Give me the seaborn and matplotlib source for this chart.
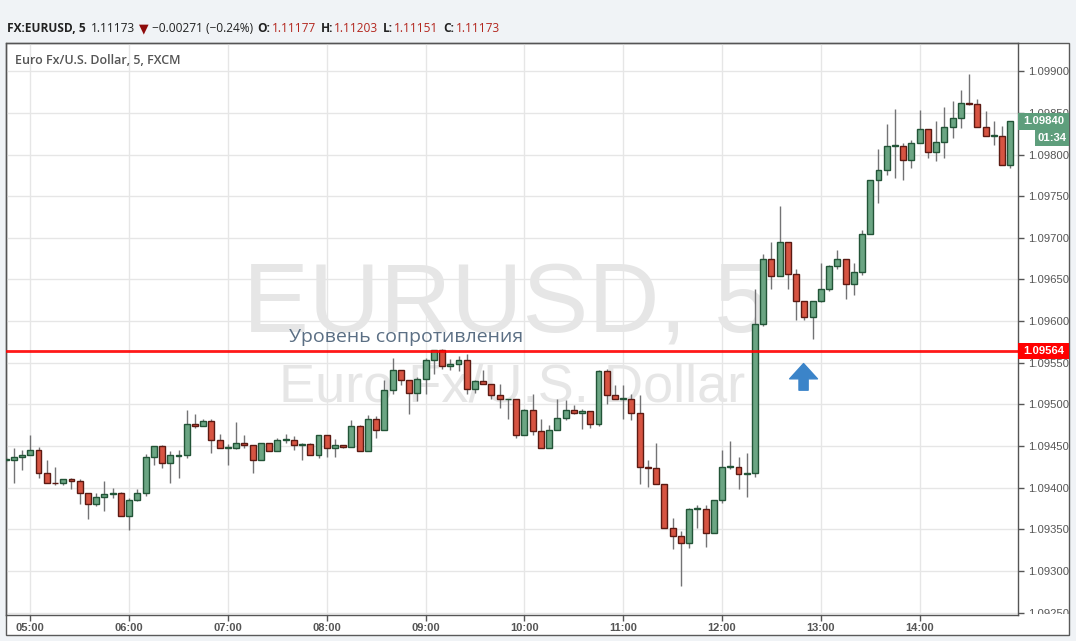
import numpy as np
import pandas as pd
import matplotlib
matplotlib.use("Agg")
import matplotlib.pyplot as plt
import matplotlib.transforms as mtransforms
from matplotlib.patches import Rectangle
import seaborn as sns

# ---------------- data (prices in 1e-5 units) ----------------
open_pts = [109433, 109433, 109437, 109439, 109445, 109417, 109406, 109405, 109410, 109408,
            109393, 109380, 109389, 109392, 109394, 109366, 109385, 109394, 109437, 109450,
            109430, 109438, 109439, 109476, 109474, 109480, 109457, 109448, 109448, 109453,
            109451, 109433, 109454, 109444, 109457, 109457, 109451, 109452, 109439, 109463,
            109448, 109451, 109449, 109474, 109444, 109483, 109469, 109517, 109541, 109529,
            109514, 109530, 109553, 109565, 109546, 109548, 109553, 109519, 109528, 109524,
            109511, 109506, 109507, 109463, 109493, 109468, 109448, 109469, 109484, 109493,
            109490, 109492, 109477, 109540, 109511, 109507, 109507, 109490, 109425, 109424,
            109404, 109352, 109342, 109333, 109374, 109374, 109345, 109385, 109425, 109425,
            109416, 109417, 109596, 109674, 109654, 109695, 109656, 109624, 109605, 109624,
            109638, 109666, 109675, 109645, 109659, 109704, 109770, 109781, 109810, 109810,
            109794, 109814, 109831, 109803, 109815, 109833, 109844, 109862, 109861, 109833,
            109822, 109822, 109787]
high_pts = [109437, 109448, 109445, 109463, 109449, 109433, 109425, 109410, 109411, 109410,
            109394, 109394, 109408, 109400, 109395, 109387, 109398, 109440, 109450, 109451,
            109444, 109445, 109493, 109488, 109483, 109483, 109464, 109452, 109479, 109463,
            109451, 109454, 109454, 109459, 109464, 109462, 109453, 109453, 109463, 109463,
            109458, 109451, 109481, 109475, 109487, 109486, 109529, 109556, 109541, 109529,
            109533, 109556, 109565, 109566, 109554, 109558, 109560, 109529, 109541, 109524,
            109524, 109507, 109507, 109494, 109513, 109483, 109475, 109506, 109505, 109499,
            109494, 109492, 109541, 109542, 109523, 109523, 109513, 109511, 109433, 109453,
            109404, 109364, 109348, 109375, 109379, 109379, 109385, 109445, 109456, 109437,
            109442, 109638, 109681, 109695, 109738, 109695, 109663, 109624, 109624, 109670,
            109667, 109685, 109675, 109670, 109710, 109770, 109807, 109837, 109855, 109814,
            109818, 109854, 109831, 109840, 109857, 109864, 109877, 109897, 109867, 109852,
            109840, 109834, 109840]
low_pts = [109431, 109406, 109421, 109439, 109412, 109406, 109403, 109403, 109398, 109380,
           109362, 109378, 109372, 109388, 109366, 109349, 109384, 109390, 109427, 109423,
           109406, 109411, 109436, 109472, 109474, 109442, 109448, 109427, 109446, 109448,
           109418, 109433, 109444, 109444, 109453, 109445, 109433, 109439, 109436, 109437,
           109437, 109447, 109449, 109444, 109444, 109459, 109469, 109512, 109523, 109488,
           109504, 109512, 109536, 109543, 109541, 109540, 109512, 109514, 109524, 109506,
           109496, 109483, 109459, 109463, 109463, 109447, 109448, 109469, 109481, 109488,
           109470, 109471, 109474, 109500, 109507, 109482, 109481, 109404, 109401, 109404,
           109352, 109326, 109282, 109328, 109352, 109329, 109345, 109382, 109422, 109398,
           109389, 109413, 109594, 109638, 109654, 109639, 109601, 109601, 109578, 109623,
           109636, 109662, 109627, 109631, 109655, 109704, 109742, 109776, 109772, 109769,
           109784, 109814, 109796, 109792, 109796, 109820, 109832, 109859, 109833, 109822,
           109811, 109787, 109784]
close_pts = [109434, 109437, 109439, 109445, 109417, 109406, 109405, 109410, 109408, 109393,
             109380, 109389, 109392, 109394, 109366, 109385, 109394, 109437, 109450, 109430,
             109439, 109439, 109476, 109474, 109480, 109457, 109448, 109449, 109453, 109451,
             109433, 109454, 109444, 109457, 109458, 109451, 109452, 109439, 109463, 109448,
             109451, 109449, 109474, 109444, 109483, 109469, 109517, 109541, 109529, 109514,
             109530, 109553, 109565, 109546, 109548, 109553, 109519, 109528, 109524, 109511,
             109506, 109507, 109463, 109493, 109468, 109448, 109469, 109484, 109493, 109490,
             109492, 109477, 109540, 109511, 109507, 109508, 109490, 109425, 109424, 109404,
             109352, 109342, 109333, 109374, 109375, 109345, 109385, 109425, 109426, 109416,
             109417, 109596, 109674, 109654, 109695, 109656, 109624, 109605, 109624, 109638,
             109666, 109675, 109645, 109659, 109704, 109770, 109781, 109810, 109811, 109794,
             109814, 109831, 109803, 109815, 109833, 109844, 109862, 109861, 109833, 109822,
             109823, 109787, 109840]

bar_index = list(range(-3, 120))          # 5-minute bars, 0 = 05:00
hour_ticks = [0, 12, 24, 36, 48, 60, 72, 84, 96, 108]
hour_labels = ["05:00", "06:00", "07:00", "08:00", "09:00",
               "10:00", "11:00", "12:00", "13:00", "14:00"]
price_ticks = [1.0925, 1.0930, 1.0935, 1.0940, 1.0945, 1.0950, 1.0955,
               1.0960, 1.0965, 1.0970, 1.0975, 1.0980, 1.0985, 1.0990]
resistance = 1.09564
last_price = 1.09840
countdown = "01:34"

df = pd.DataFrame({
    "i": bar_index,
    "o": np.array(open_pts) / 1e5,
    "h": np.array(high_pts) / 1e5,
    "l": np.array(low_pts) / 1e5,
    "c": np.array(close_pts) / 1e5,
})

# ---------------- style ----------------
sns.set_theme(style="white")
plt.rcParams["font.family"] = ["Liberation Sans", "DejaVu Sans"]

W, H = 1076, 641
fig = plt.figure(figsize=(W / 100, H / 100), dpi=100, facecolor="#F0F3F6")

# outer white panel
fig.add_artist(Rectangle((6 / W, (H - 635) / H), (1069 - 6) / W, (635 - 43) / H,
                         transform=fig.transFigure, facecolor="white",
                         edgecolor="#5a5a5a", lw=1.0, zorder=0))

ax = fig.add_axes([6 / W, (H - 615) / H, (1018 - 6) / W, (615 - 43) / H])
ax.set_facecolor("white")
ax.patch.set_alpha(0)

GREEN_B, GREEN_E = "#6BA583", "#225437"
RED_B, RED_E = "#D75442", "#5B1A13"

up = df["c"] >= df["o"]
bottom = np.minimum(df["o"], df["c"])
height = np.maximum((df["c"] - df["o"]).abs(), 0.000008)

ax.vlines(df["i"], df["l"], df["h"], color="#737375", lw=1.0, zorder=2)
ax.bar(df["i"][up], height[up], bottom=bottom[up], width=0.72,
       color=GREEN_B, edgecolor=GREEN_E, lw=1.0, zorder=3)
ax.bar(df["i"][~up], height[~up], bottom=bottom[~up], width=0.72,
       color=RED_B, edgecolor=RED_E, lw=1.0, zorder=3)

ax.set_xlim(-2.95, 119.94)
ax.set_ylim(1.09247, 1.09934)

# grid
for p in price_ticks:
    ax.axhline(p, color="#E6E6E6", lw=1.0, zorder=0.5)
for t in hour_ticks:
    ax.axvline(t, color="#E6E6E6", lw=1.0, zorder=0.5)

# watermark
ax.text(0.494, 0.4948, "EURUSD, 5", transform=ax.transAxes, ha="center",
        va="baseline", fontsize=71, color="#E6E6E6", zorder=0.2)
ax.text(0.5, 0.3724, "Euro Fx/U.S. Dollar", transform=ax.transAxes, ha="center",
        va="baseline", fontsize=39, color="#E6E6E6", zorder=0.2)

# resistance line
ax.axhline(resistance, color="#FF0000", lw=2.0, alpha=0.9, zorder=4)
ax.text(31.4, 1.09581, "Уровень сопротивления", fontsize=14, color="#5B6F84",
        ha="left", va="center", family=["Open Sans", "DejaVu Sans"], zorder=5)

# blue arrow
ax.annotate("", xy=(93.9, 1.09549), xytext=(93.9, 1.09517),
            arrowprops=dict(arrowstyle="simple,head_length=0.55,head_width=1.0,tail_width=0.33",
                            fc="#3B84C9", ec="#3B84C9", lw=1, mutation_scale=20,
                            shrinkA=0, shrinkB=0), zorder=5)

# axes styling
for s in ax.spines.values():
    s.set_color("#555555")
    s.set_linewidth(1.0)
ax.yaxis.tick_right()
ax.set_yticks(price_ticks)
ax.set_yticklabels([f"{p:.5f}" for p in price_ticks])
ax.set_xticks(hour_ticks)
ax.set_xticklabels(hour_labels)
ax.tick_params(axis="y", which="both", right=True, left=False, length=4, width=1,
               color="#555555", labelcolor="#555555", labelsize=8.1, pad=3)
ax.tick_params(axis="x", which="both", bottom=True, length=4, width=1,
               color="#555555", labelcolor="#555555", labelsize=8, pad=1.5)
for lbl in ax.get_xticklabels():
    lbl.set_fontweight("bold")
ax.set_xlabel("")
ax.set_ylabel("")

# right-side price boxes
blend = mtransforms.blended_transform_factory(ax.transAxes, ax.transData)
bw = (1069 - 1018) / (1018 - 6)
half = 0.0001
ax.add_patch(Rectangle((1.0, resistance - half), bw, 2 * half, transform=blend,
                       facecolor="#FF0000", edgecolor="none", clip_on=False, zorder=6))
ax.text(1.0 + bw / 2, resistance, f"{resistance:.5f}", transform=blend, ha="center",
        va="center", color="white", fontsize=8.1, fontweight="bold", clip_on=False, zorder=7)
ax.add_patch(Rectangle((1.0, last_price - half), bw, 2 * half, transform=blend,
                       facecolor="#5E9E7C", edgecolor="none", clip_on=False, zorder=6))
ax.text(1.0 + bw / 2, last_price, f"{last_price:.5f}", transform=blend, ha="center",
        va="center", color="white", fontsize=8.1, fontweight="bold", clip_on=False, zorder=7)
cx0 = (1035 - 6) / (1018 - 6)
cy = last_price - 0.000205
ax.add_patch(Rectangle((cx0, cy - 0.000098), (1069 - 1035) / (1018 - 6), 0.000196,
                       transform=blend, facecolor="#5E9E7C", edgecolor="none",
                       clip_on=False, zorder=6))
ax.text((cx0 + (1069 - 6) / (1018 - 6)) / 2, cy, countdown, transform=blend,
        ha="center", va="center", color="white", fontsize=8.1, fontweight="bold",
        clip_on=False, zorder=7)

# clip price labels to the panel
fig.canvas.draw()
clipbox = mtransforms.Bbox([[1018, H - 614], [1076, H - 43]])
for tk in ax.yaxis.get_major_ticks():
    tk.label2.set_clip_on(True)
    tk.label2.set_clip_box(clipbox)

# header, laid out piece by piece
renderer = fig.canvas.get_renderer()
hdr_y = (H - 29) / H
hfam = ["Open Sans", "DejaVu Sans"]
dark = "#222222"
redtxt = "#B3261E"
pieces = [
    ("FX:EURUSD, 5", dark, "bold", 5),
    ("1.11173", dark, "normal", 4),
    ("▼", "#8E0B0B", "normal", 3),
    ("\u22120.00271 (\u22120.24%)", dark, "normal", 5),
    ("O:", dark, "bold", 1),
    ("1.11177", redtxt, "normal", 5),
    ("H:", dark, "bold", 1),
    ("1.11203", redtxt, "normal", 5),
    ("L:", dark, "bold", 1),
    ("1.11151", redtxt, "normal", 5),
    ("C:", dark, "bold", 1),
    ("1.11173", redtxt, "normal", 0),
]
xpix = 7.0
for s, col, wt, gap in pieces:
    fs = 9 if s == "▼" else 8.6
    t = fig.text(xpix / W, hdr_y, s, color=col, fontweight=wt, fontsize=fs,
                 family=hfam, ha="left", va="center")
    bb = t.get_window_extent(renderer=renderer)
    xpix = bb.x1 + gap

fig.text(15 / W, (H - 61) / H, "Euro Fx/U.S. Dollar, 5, FXCM", color="#555555",
         fontweight="semibold", fontsize=9, family=hfam, ha="left", va="center")

fig.savefig("out.png", dpi=100, facecolor=fig.get_facecolor())
